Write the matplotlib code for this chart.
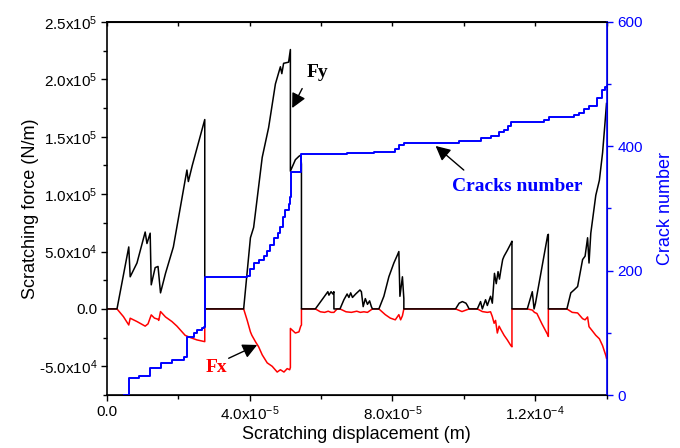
import numpy as np
import matplotlib
matplotlib.use("Agg")
import matplotlib.pyplot as plt
from matplotlib.ticker import MultipleLocator

plt.rcParams['font.family'] = ['Liberation Sans', 'DejaVu Sans']
plt.rcParams['mathtext.fontset'] = 'custom'
plt.rcParams['mathtext.rm'] = 'Liberation Sans'
plt.rcParams['mathtext.it'] = 'Liberation Sans:italic'
plt.rcParams['mathtext.bf'] = 'Liberation Sans:bold'

# ---- data (displacement in 1e-5 m, forces in 1e4 N/m) ----
fy_x = [0, 0.28, 0.61, 0.65, 0.84, 1.07, 1.12, 1.21, 1.24, 1.35, 1.43, 1.50, 1.64, 1.86,
        2.24, 2.28, 2.39, 2.74, 2.74, 3.83, 4.02, 4.11, 4.35, 4.53, 4.72, 4.86, 4.90, 4.95,
        5.09, 5.14, 5.14, 5.28, 5.38, 5.43, 5.45, 5.45,
        5.84, 5.98, 6.12, 6.19, 6.22, 6.28, 6.33, 6.36, 6.36,
        6.53, 6.64, 6.73, 6.78, 6.83, 6.88, 6.97, 7.09, 7.13, 7.18, 7.24, 7.30, 7.36, 7.41, 7.44,
        7.62, 7.76, 7.90, 8.04, 8.14, 8.18, 8.21, 8.28, 8.32, 8.32,
        9.77, 9.87, 9.96, 10.06, 10.10, 10.15,
        10.38, 10.47, 10.52, 10.61, 10.66, 10.75, 10.80, 10.86, 10.91, 10.96, 11.00, 11.04,
        11.09, 11.13, 11.22, 11.32, 11.35, 11.35,
        11.78, 11.92, 11.97, 12.01, 12.35, 12.37, 12.37,
        12.89, 13.00, 13.09, 13.19, 13.33, 13.40, 13.47, 13.51, 13.56, 13.70, 13.80, 13.89,
        13.95, 14.00]
fy_val = [0, 0, 5.4, 2.8, 4.0, 6.7, 5.7, 6.6, 2.1, 3.6, 3.7, 1.4, 3.1, 5.4,
          12.1, 11.1, 12.5, 16.5, 0, 0, 6.2, 7.1, 13.2, 15.8, 19.6, 21.1, 20.5, 21.4,
          21.5, 22.6, 12.0, 13.0, 13.3, 13.4, 12.6, 0,
          0, 0.6, 1.2, 1.5, 1.2, 1.5, 1.3, 1.5, 0,
          0, 0.8, 1.3, 1.0, 1.4, 1.0, 1.3, 1.65, 1.5, 0.2, 0.9, 0.4, 0.7, 0.2, 0,
          0, 1.1, 2.8, 4.0, 4.7, 5.0, 1.1, 2.8, 0.9, 0,
          0, 0.5, 0.64, 0.5, 0.3, 0,
          0, 0.64, 0, 0.8, 0.3, 1.1, 0.5, 3.1, 2.2, 3.25, 2.6, 3.4,
          4.3, 4.6, 5.1, 5.7, 5.9, 0,
          0, 1.5, 0, 0.5, 6.4, 6.5, 0,
          0, 1.4, 1.65, 1.95, 4.3, 4.6, 6.2, 4.0, 6.6, 9.9, 11.2, 13.6,
          15.9, 17.9]

fx_x = [0, 0.28, 0.46, 0.61, 0.65, 0.84, 1.07, 1.15, 1.24, 1.33, 1.43, 1.45, 1.50, 1.64,
        1.82, 1.96, 2.19, 2.34, 2.52, 2.74, 2.74, 3.83, 3.93, 4.02, 4.06, 4.16, 4.25, 4.35,
        4.49, 4.63, 4.77, 4.86, 4.96, 5.05, 5.12, 5.14, 5.14, 5.28, 5.38, 5.43, 5.45, 5.45,
        5.84, 5.98, 6.10, 6.20, 6.28, 6.36, 6.45, 6.53, 6.70, 6.85, 7.00, 7.10, 7.20, 7.30,
        7.44, 7.62, 7.80, 7.94, 8.08, 8.18, 8.23, 8.28, 8.32,
        9.77, 9.95, 10.15, 10.38, 10.52, 10.66, 10.75, 10.80, 10.85, 10.89, 10.94, 10.99,
        11.04, 11.13, 11.22, 11.32, 11.35, 11.35,
        11.78, 11.92, 11.98, 12.05, 12.19, 12.36, 12.37, 12.37,
        12.89, 13.04, 13.19, 13.33, 13.40, 13.47, 13.51, 13.60, 13.70, 13.80, 13.89, 13.98,
        14.00]
fx_val = [0, 0, -0.67, -1.4, -0.81, -1.1, -1.5, -1.3, -0.52, -0.8, -0.9, -1.0, -0.23, -0.7,
          -1.1, -1.5, -2.3, -2.5, -2.7, -2.85, 0, 0, -1.0, -2.0, -2.3, -2.85, -3.3, -4.0,
          -4.7, -5.0, -5.5, -5.3, -5.5, -5.2, -5.3, -5.1, -1.7, -2.1, -2.0, -1.5, -1.4, 0,
          0, -0.25, -0.3, -0.2, -0.3, -0.3, 0, 0, -0.25, -0.3, -0.2, -0.3, -0.25, -0.3,
          0, 0, -0.5, -0.8, -0.95, -0.5, -0.95, -0.6, 0,
          0, -0.23, 0, 0, -0.23, -0.3, -0.25, -0.67, -1.25, -1.0, -2.1, -1.5,
          -1.8, -2.3, -2.7, -3.2, -3.3, 0,
          0, -0.1, -0.3, -0.4, -1.3, -2.3, -2.4, 0,
          0, -0.3, -0.35, -0.85, -0.95, -0.7, -1.55, -1.9, -2.3, -2.6, -3.2, -4.05,
          -4.3]

crack_x = [0.47, 0.61, 0.89, 1.21, 1.50, 1.82, 2.15, 2.24, 2.43, 2.52, 2.66, 2.72, 2.74,
           3.92, 4.02, 4.11, 4.25, 4.39, 4.49, 4.58, 4.67, 4.79, 4.86, 4.94, 5.00, 5.09,
           5.14, 5.16, 5.45, 6.73, 7.48, 8.08, 8.18, 8.32, 9.86, 10.47, 10.75, 10.89, 10.98,
           11.13, 11.24, 11.32, 12.26, 12.38, 13.09, 13.22, 13.38, 13.51, 13.73, 13.86,
           13.95, 14.00]
crack_val = [0, 27, 30, 43, 52, 56, 61, 94, 99, 105, 107, 109, 190,
             191, 202, 212, 217, 224, 232, 241, 252, 260, 271, 287, 298, 308,
             319, 358, 388, 390, 391, 395, 402, 405, 409, 413, 417, 417, 423,
             426, 432, 439, 443, 447, 450, 453, 460, 465, 478, 490,
             495, 497]

x_ticks = [0, 4, 8, 12]
x_tick_labels = ['0.0', '4.0x10$^{-5}$', '8.0x10$^{-5}$', '1.2x10$^{-4}$']
y_ticks = [-5, 0, 5, 10, 15, 20, 25]
y_tick_labels = ['-5.0x10$^{4}$', '0.0', '5.0x10$^{4}$', '1.0x10$^{5}$',
                 '1.5x10$^{5}$', '2.0x10$^{5}$', '2.5x10$^{5}$']
c_ticks = [0, 200, 400, 600]

XU = 1e-5
YU = 1e4

fig = plt.figure(figsize=(6.8, 4.48), dpi=100)
ax = fig.add_axes([107/680, 1-395/448, (606.5-107)/680, (395-22)/448])
ax2 = ax.twinx()

ax.plot(np.array(fy_x)*XU, np.array(fy_val)*YU, color='black', lw=1.1, zorder=3)
ax.plot(np.array(fx_x)*XU, np.array(fx_val)*YU, color='#ff0000', lw=1.1, zorder=2)
ax2.plot(np.array(crack_x)*XU, crack_val, color='#0000ff', lw=1.4, drawstyle='steps-post')

ax.set_xlim(0, 1.4e-4)
ax.set_ylim(-7.5e4, 2.5e5)
ax2.set_ylim(0, 600)

ax.set_xticks(np.array(x_ticks)*XU)
ax.set_xticklabels(x_tick_labels)
ax.xaxis.set_minor_locator(MultipleLocator(2e-5))
ax.set_yticks(np.array(y_ticks)*YU)
ax.set_yticklabels(y_tick_labels)
ax.yaxis.set_minor_locator(MultipleLocator(2.5e4))
ax2.set_yticks(c_ticks)
ax2.yaxis.set_minor_locator(MultipleLocator(100))

ax.tick_params(which='major', direction='out', length=4, width=1, labelsize=11, pad=3)
ax.tick_params(which='minor', direction='out', length=2.8, width=1)
ax2.tick_params(which='major', direction='out', length=4, width=1, labelsize=11,
                colors='#0000ff', pad=4)
ax2.tick_params(which='minor', direction='out', length=2.8, width=1, colors='#0000ff')

sec = ax.secondary_xaxis('top')
sec.set_xticks(np.array(x_ticks)*XU)
sec.xaxis.set_minor_locator(MultipleLocator(2e-5))
sec.tick_params(which='both', direction='in', length=3, width=1, labeltop=False)
sec.spines['top'].set_linewidth(1.2)

for s in ['left', 'bottom', 'top']:
    ax.spines[s].set_linewidth(1.2)
ax2.spines['right'].set_color('#0000ff')
ax2.spines['right'].set_linewidth(1.2)
ax2.spines['left'].set_visible(False)

ax.set_ylabel('Scratching force (N/m)', fontsize=13, labelpad=0)
ax.set_xlabel('Scratching displacement (m)', fontsize=13, labelpad=2)
ax2.set_ylabel('Crack number', fontsize=13, color='#0000ff', labelpad=10)

serif = dict(family=['Liberation Serif', 'DejaVu Serif'], fontweight='bold', fontsize=14)
arrow = dict(arrowstyle='-|>', color='black', lw=1.0, mutation_scale=22, shrinkA=0, shrinkB=0)
ax.text(5.90e-5, 20.6e4, 'Fy', color='black', ha='center', va='center', **serif)
ax.annotate('', xy=(5.19e-5, 17.5e4), xytext=(5.47e-5, 19.2e4), arrowprops=arrow)
ax.text(3.07e-5, -5.14e4, 'Fx', color='#ff0000', ha='center', va='center', **serif)
ax.annotate('', xy=(4.21e-5, -3.14e4), xytext=(3.41e-5, -4.3e4), arrowprops=arrow)
ax.text(11.5e-5, 10.7e4, 'Cracks number', color='#0000ff', ha='center', va='center', **serif)
ax.annotate('', xy=(9.21e-5, 14.2e4), xytext=(10.0e-5, 12.1e4), arrowprops=arrow, zorder=5)

fig.savefig('out.png', dpi=100)
